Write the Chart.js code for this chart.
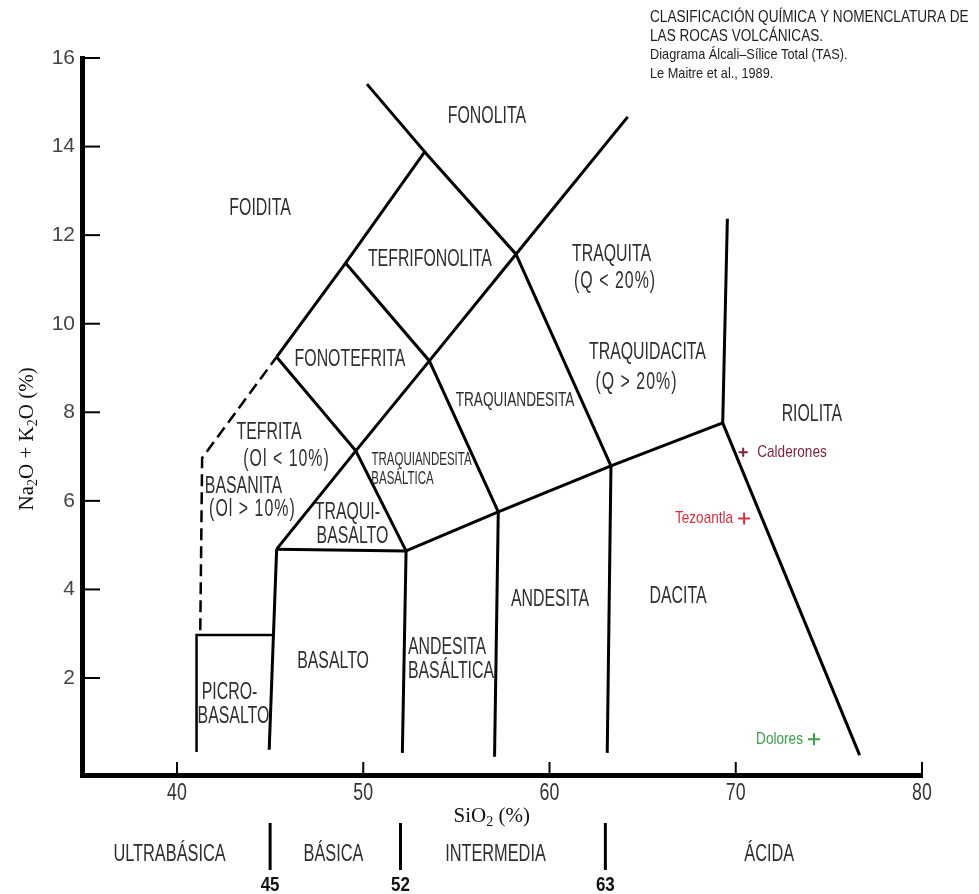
<!DOCTYPE html>
<html lang="es">
<head>
<meta charset="utf-8">
<title>Diagrama TAS</title>
<script src="https://cdn.jsdelivr.net/npm/chart.js@4.4.1/dist/chart.umd.min.js"></script>
<style>
  html, body { margin: 0; padding: 0; background: #fff; }
  #wrap { position: relative; width: 979px; height: 894px; }
</style>
</head>
<body>
<div id="wrap"><canvas id="tasChart"></canvas></div>
<script>
// ejes
const X_TICKS = [40, 50, 60, 70, 80];
const Y_TICKS = [2, 4, 6, 8, 10, 12, 14, 16];

const LIM_PICROBASALTO = [[41.05, 0.33], [41.05, 2.97], [45.1, 2.97]];
const LIM_SIO2_45 = [[44.95, 0.38], [45.35, 4.91]];
const LIM_BASALTO_TECHO = [[45.35, 4.91], [52.3, 4.87]];
const LIM_SIO2_52 = [[52.3, 4.87], [52.1, 0.31]];
const LIM_SIO2_57 = [[57.25, 5.75], [57.05, 0.22]];
const LIM_SIO2_63 = [[63.3, 6.79], [63.1, 0.31]];
const LIM_SUBALCALINO = [[52.3, 4.87], [57.25, 5.75], [63.3, 6.79], [69.3, 7.76]];
const LIM_RIOLITA = [[69.55, 12.37], [69.3, 7.76], [76.65, 0.26]];
const LIM_DIAGONAL = [[45.35, 4.91], [49.6, 7.13], [53.55, 9.16], [58.2, 11.57], [64.2, 14.67]];
const LIM_FOIDITA = [[45.35, 9.25], [49.05, 11.37], [53.3, 13.88], [50.2, 15.41]];
const LIM_TEFRITA = [[45.35, 9.25], [49.6, 7.13], [52.3, 4.87]];
const LIM_FONOTEFRITA = [[49.05, 11.37], [53.55, 9.16], [57.25, 5.75]];
const LIM_TEFRIFONOLITA = [[53.3, 13.88], [58.2, 11.57], [63.3, 6.79]];
const LIM_BASANITA = [[41.25, 3.08], [41.35, 6.97], [45.35, 9.25]]; // discontinuo

// nombres de campos (una entrada por renglón) y su punto de anclaje
const CAMPOS = ['FOIDITA', 'FONOLITA', 'TEFRIFONOLITA', 'FONOTEFRITA',
  'TRAQUITA', '(Q < 20%)', 'TRAQUIDACITA', '(Q > 20%)', 'TRAQUIANDESITA',
  'TRAQUIANDESITA', 'BASÁLTICA', 'TEFRITA', '(Ol < 10%)', 'BASANITA', '(Ol > 10%)',
  'TRAQUI-', 'BASALTO', 'BASALTO', 'PICRO-', 'BASALTO', 'ANDESITA', 'BASÁLTICA',
  'ANDESITA', 'DACITA', 'RIOLITA'];
const CAMPOS_SIO2 = [44.46, 56.64, 53.58, 49.29,
  63.33, 63.52, 65.26, 64.67, 58.15,
  53.13, 52.11, 44.94, 45.88, 43.57, 44.05,
  49.15, 49.42, 48.38, 42.82, 43.03, 54.5, 54.71,
  60.03, 66.9, 74.09];
const CAMPOS_ALC = [12.59, 14.67, 11.44, 9.18,
  11.55, 10.94, 9.34, 8.68, 8.28,
  6.92, 6.49, 7.53, 6.92, 6.31, 5.8,
  5.73, 5.19, 2.36, 1.66, 1.12, 2.68, 2.14,
  3.76, 3.83, 7.94];

// muestras
const MUESTRAS = ['Calderones', 'Tezoantla', 'Dolores'];
const MUESTRAS_SIO2 = [70.4, 70.45, 74.2];
const MUESTRAS_ALC = [7.1, 5.6, 0.62];

// clasificación por contenido de sílice
const CLASES = ['ULTRABÁSICA', 'BÁSICA', 'INTERMEDIA', 'ÁCIDA'];
const CLASES_SIO2 = [39.6, 48.4, 57.1, 71.8];
const LIMITES_CLASE = [45, 52, 63];

const TITULO = ['CLASIFICACIÓN QUÍMICA Y NOMENCLATURA DE', 'LAS ROCAS VOLCÁNICAS.',
  'Diagrama Álcali–Sílice Total (TAS).', 'Le Maitre et al., 1989.'];

// ---- estilos ----
const COLOR_TEXTO = '#2e2e2e';
const COLORES_MUESTRA = ['#7d1f3f', '#d8303e', '#3c9f4c'];
const RADIOS_MUESTRA = [4.5, 6, 6];
const LADO_MUESTRA = ['right', 'left', 'left'];
const FUENTE = '"Liberation Sans", Arial, sans-serif';
const SERIF = '"Liberation Serif", "Times New Roman", serif';

const toXY = pts => pts.map(([x, y]) => ({ x, y }));

function lineaLimite(pts, extra) {
    return Object.assign({
        data: toXY(pts),
        showLine: true,
        borderColor: '#000',
        borderWidth: 3,
        pointRadius: 0,
        fill: false,
        tension: 0,
        order: 2
    }, extra || {});
}

function texto(ctx, str, x, y, size, sx, opts) {
    opts = opts || {};
    ctx.save();
    ctx.translate(x, y);
    ctx.scale(sx, 1);
    ctx.font = (opts.weight || '') + ' ' + size + 'px ' + (opts.family || FUENTE);
    ctx.fillStyle = opts.color || COLOR_TEXTO;
    ctx.textAlign = opts.align || 'center';
    ctx.textBaseline = 'middle';
    if (opts.spacing) ctx.letterSpacing = opts.spacing;
    ctx.fillText(str, 0, 0);
    ctx.restore();
}

// texto con subíndices, centrado en (cx, cy)
function textoQuimico(ctx, partes, cx, cy, rot) {
    const grande = '21px ' + SERIF, chico = '14px ' + SERIF;
    ctx.save();
    ctx.translate(cx, cy);
    ctx.rotate(rot);
    let total = 0;
    partes.forEach(p => {
        ctx.font = p.sub ? chico : grande;
        total += ctx.measureText(p.t).width;
    });
    let x = -total / 2;
    ctx.fillStyle = '#111';
    ctx.textBaseline = 'alphabetic';
    ctx.textAlign = 'left';
    partes.forEach(p => {
        ctx.font = p.sub ? chico : grande;
        ctx.fillText(p.t, x, p.sub ? 11 : 7);
        x += ctx.measureText(p.t).width;
    });
    ctx.restore();
}

const anotaciones = {
    id: 'anotaciones',
    afterDraw(chart) {
        const ctx = chart.ctx;
        const xs = chart.scales.x, ys = chart.scales.y;
        const area = chart.chartArea;

        // marcas de graduación hacia dentro
        ctx.save();
        ctx.strokeStyle = '#000';
        ctx.lineWidth = 2;
        Y_TICKS.forEach(v => {
            const py = ys.getPixelForValue(v);
            ctx.beginPath();
            ctx.moveTo(area.left, py);
            ctx.lineTo(area.left + 18, py);
            ctx.stroke();
        });
        X_TICKS.forEach(v => {
            const px = xs.getPixelForValue(v);
            ctx.beginPath();
            ctx.moveTo(px, area.bottom);
            ctx.lineTo(px, area.bottom - 13);
            ctx.stroke();
        });
        ctx.restore();

        // rótulos del eje x (tipografía estrecha)
        X_TICKS.forEach(v => {
            texto(ctx, String(v), xs.getPixelForValue(v), area.bottom + 18, 24, 0.74, { color: '#333' });
        });

        // nombres de los campos
        CAMPOS.forEach((nombre, i) => {
            let size = 23, sx = 0.69;
            if (i === 8) { size = 21; sx = 0.65; }
            if (i === 9 || i === 10) { size = 18; sx = 0.64; }
            const spacing = nombre.charAt(0) === '(' ? '1.5px' : null;
            texto(ctx, nombre, xs.getPixelForValue(CAMPOS_SIO2[i]), ys.getPixelForValue(CAMPOS_ALC[i]), size, sx, { spacing });
        });

        // etiquetas de muestras
        const meta = chart.getDatasetMeta(chart.data.datasets.length - 1);
        meta.data.forEach((pt, i) => {
            const derecha = LADO_MUESTRA[i] === 'right';
            texto(ctx, MUESTRAS[i], pt.x + (derecha ? 14 : -11), pt.y, 17, 0.8,
                { color: COLORES_MUESTRA[i], align: derecha ? 'left' : 'right' });
        });

        // títulos de ejes
        textoQuimico(ctx, [{ t: 'Na' }, { t: '2', sub: true }, { t: 'O + K' }, { t: '2', sub: true }, { t: 'O (%)' }],
            26, ys.getPixelForValue(7.4), -Math.PI / 2);
        textoQuimico(ctx, [{ t: 'SiO' }, { t: '2', sub: true }, { t: ' (%)' }],
            xs.getPixelForValue(56.9), area.bottom + 40, 0);

        // franja de clasificación por sílice
        const yBanda = area.bottom + 80;
        ctx.save();
        ctx.strokeStyle = '#000';
        ctx.lineWidth = 3;
        LIMITES_CLASE.forEach(v => {
            const px = xs.getPixelForValue(v);
            ctx.beginPath();
            ctx.moveTo(px, yBanda - 32);
            ctx.lineTo(px, yBanda + 15);
            ctx.stroke();
            texto(ctx, String(v), px, yBanda + 30, 20, 0.85, { weight: 'bold', color: '#111' });
        });
        ctx.restore();
        CLASES.forEach((c, i) => {
            texto(ctx, c, xs.getPixelForValue(CLASES_SIO2[i]), yBanda, 23, 0.71);
        });

        // leyenda del diagrama
        TITULO.forEach((linea, i) => {
            texto(ctx, linea, 650, 18 + i * 18.5, i < 2 ? 16 : 15, 0.85, { align: 'left', color: '#1e1e1e' });
        });
    }
};

const ctx = document.getElementById('tasChart').getContext('2d');
new Chart(ctx, {
    type: 'scatter',
    data: {
        datasets: [
            lineaLimite(LIM_PICROBASALTO, { borderWidth: 2.5 }),
            lineaLimite(LIM_SIO2_45),
            lineaLimite(LIM_BASALTO_TECHO),
            lineaLimite(LIM_SIO2_52),
            lineaLimite(LIM_SIO2_57),
            lineaLimite(LIM_SIO2_63),
            lineaLimite(LIM_SUBALCALINO),
            lineaLimite(LIM_RIOLITA),
            lineaLimite(LIM_DIAGONAL),
            lineaLimite(LIM_FOIDITA),
            lineaLimite(LIM_TEFRITA),
            lineaLimite(LIM_FONOTEFRITA),
            lineaLimite(LIM_TEFRIFONOLITA),
            lineaLimite(LIM_BASANITA, { borderWidth: 2.5, borderDash: [12, 6] }),
            {
                label: 'Muestras',
                data: MUESTRAS_SIO2.map((x, i) => ({ x, y: MUESTRAS_ALC[i] })),
                showLine: false,
                pointStyle: 'cross',
                pointRadius: RADIOS_MUESTRA,
                pointBorderWidth: 2,
                pointBorderColor: COLORES_MUESTRA,
                borderColor: COLORES_MUESTRA,
                order: 1
            }
        ]
    },
    plugins: [anotaciones],
    options: {
        responsive: true,
        maintainAspectRatio: false,
        animation: false,
        layout: { padding: { top: 58, right: 57, left: 0, bottom: 0 } },
        scales: {
            x: {
                type: 'linear',
                min: 34.9,
                max: 80,
                afterBuildTicks: s => { s.ticks = X_TICKS.map(v => ({ value: v })); },
                afterFit: s => { s.height = 119; },
                grid: { display: true, drawOnChartArea: false, drawTicks: false },
                border: { display: true, color: '#000', width: 5 },
                ticks: { display: false }
            },
            y: {
                type: 'linear',
                min: -0.19,
                max: 16,
                afterBuildTicks: s => { s.ticks = Y_TICKS.map(v => ({ value: v })); },
                afterFit: s => { s.width = 82; },
                grid: { display: true, drawOnChartArea: false, drawTicks: false },
                border: { display: true, color: '#000', width: 5 },
                ticks: {
                    color: '#444',
                    padding: 7,
                    font: { family: FUENTE, size: 21 }
                }
            }
        },
        plugins: {
            legend: { display: false },
            tooltip: { enabled: false }
        }
    }
});
</script>
</body>
</html>
